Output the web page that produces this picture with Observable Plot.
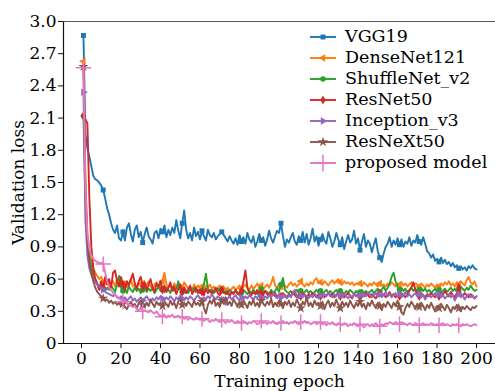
<!DOCTYPE html>
<html><head><meta charset="utf-8">
<script src="https://cdn.jsdelivr.net/npm/d3@7"></script>
<script src="https://cdn.jsdelivr.net/npm/@observablehq/plot@0.6"></script>
<style>
body{margin:0;background:#fff;}
#wrap{position:relative;width:495px;height:391px;overflow:hidden;font-family:"DejaVu Serif",serif;}
#legend{position:absolute;left:309px;top:26px;font-size:17.5px;color:#000;}
#legend .row{height:21px;line-height:21px;white-space:nowrap;display:flex;align-items:center;}
#legend svg{margin-right:8px;overflow:visible;}
</style>
</head><body>
<div id="wrap"><div id="chart"></div><div id="legend"></div></div>
<script>
const seriesNames = ["VGG19","DenseNet121","ShuffleNet_v2","ResNet50","Inception_v3","ResNeXt50","proposed model"];
const seriesColors = ["#1f77b4","#ff7f0e","#2ca02c","#d62728","#9467bd","#8c564b","#e377c2"];
const seriesSymbols = ["square","triangle","circle","diamond","triangle","star","plus"];
const seriesRotate = [0,-90,0,0,90,0,0];
const xTicks = [0,20,40,60,80,100,120,140,160,180,200];
const yTicks = [0,0.3,0.6,0.9,1.2,1.5,1.8,2.1,2.4,2.7,3.0];

const vgg19 = [
2.87,1.95,1.82,1.74,1.65,1.56,1.53,1.52,1.50,1.47,1.43,1.35,1.26,1.20,1.12,1.06,1.03,1.10,0.98,0.96,
1.04,0.96,1.08,1.12,1.02,0.95,1.06,1.10,0.99,1.04,0.94,1.02,1.08,1.00,0.97,0.93,1.03,1.05,0.98,1.07,
1.04,1.10,0.99,1.06,1.01,1.08,1.03,1.15,1.05,0.98,1.12,1.24,1.06,0.98,1.03,0.96,1.08,1.00,1.04,0.97,
1.05,1.00,0.96,1.06,1.01,0.99,1.03,0.97,1.00,1.02,1.04,1.01,0.98,0.95,1.00,0.96,0.93,0.98,0.92,1.01,
0.95,0.99,0.93,1.03,0.97,0.94,1.00,0.90,0.95,1.02,0.96,0.99,0.91,0.97,1.05,0.98,0.94,1.00,1.05,1.03,
1.12,1.00,0.90,0.97,0.94,0.99,1.03,0.95,0.92,1.00,0.96,1.04,0.94,1.02,0.92,0.98,1.07,0.95,1.00,0.91,
0.97,1.02,0.96,0.93,1.04,0.98,0.90,0.95,1.03,0.97,0.92,0.99,0.88,0.95,1.01,0.94,0.97,1.05,0.93,0.98,
0.87,0.95,1.02,0.90,0.96,0.93,0.85,0.92,0.98,0.86,0.80,0.76,0.84,0.90,0.93,0.99,0.90,0.96,0.92,0.98,
0.92,0.97,0.90,0.95,0.93,0.99,0.91,0.96,0.94,1.01,0.95,0.92,0.99,0.93,0.86,0.84,0.80,0.83,0.77,0.79,
0.76,0.80,0.75,0.78,0.74,0.76,0.72,0.75,0.71,0.73,0.70,0.72,0.69,0.71,0.68,0.72,0.70,0.73,0.70,0.69];

const densenet121 = [
2.63,1.55,1.02,0.86,0.76,0.70,0.66,0.63,0.60,0.62,0.57,0.55,0.59,0.54,0.56,0.58,0.53,0.60,0.55,0.57,
0.54,0.58,0.52,0.56,0.60,0.53,0.55,0.51,0.57,0.54,0.56,0.52,0.55,0.58,0.53,0.50,0.55,0.57,0.52,0.54,
0.58,0.66,0.55,0.52,0.54,0.50,0.56,0.53,0.51,0.55,0.52,0.57,0.54,0.51,0.53,0.50,0.55,0.52,0.54,0.51,
0.53,0.50,0.54,0.52,0.55,0.51,0.53,0.50,0.52,0.54,0.51,0.53,0.50,0.52,0.49,0.51,0.53,0.50,0.52,0.54,
0.51,0.53,0.55,0.52,0.50,0.54,0.51,0.53,0.56,0.52,0.54,0.50,0.53,0.55,0.52,0.56,0.62,0.54,0.52,0.55,
0.53,0.56,0.54,0.52,0.55,0.57,0.54,0.56,0.53,0.55,0.58,0.55,0.53,0.56,0.54,0.57,0.55,0.59,0.61,0.56,
0.57,0.55,0.58,0.56,0.54,0.57,0.59,0.56,0.58,0.60,0.57,0.55,0.58,0.56,0.57,0.55,0.57,0.54,0.56,0.55,
0.56,0.54,0.57,0.55,0.53,0.56,0.54,0.57,0.55,0.53,0.56,0.54,0.55,0.53,0.56,0.54,0.57,0.55,0.53,0.56,
0.55,0.57,0.54,0.56,0.53,0.55,0.57,0.54,0.56,0.55,0.53,0.56,0.54,0.52,0.55,0.53,0.56,0.54,0.52,0.55,
0.53,0.56,0.54,0.57,0.55,0.58,0.54,0.56,0.53,0.57,0.55,0.58,0.56,0.54,0.59,0.62,0.57,0.55,0.58,0.53];

const shufflenetV2 = [
2.12,1.30,0.95,0.80,0.71,0.64,0.60,0.56,0.53,0.55,0.51,0.49,0.52,0.50,0.54,0.51,0.48,0.55,0.63,0.52,
0.49,0.51,0.47,0.53,0.50,0.48,0.52,0.49,0.51,0.47,0.50,0.54,0.48,0.51,0.49,0.52,0.47,0.50,0.53,0.49,
0.51,0.48,0.52,0.50,0.47,0.53,0.49,0.51,0.58,0.50,0.48,0.52,0.49,0.47,0.51,0.49,0.52,0.48,0.50,0.47,
0.49,0.55,0.65,0.51,0.48,0.50,0.47,0.49,0.51,0.48,0.50,0.47,0.49,0.46,0.50,0.48,0.47,0.49,0.46,0.48,
0.47,0.50,0.48,0.46,0.49,0.47,0.50,0.48,0.46,0.49,0.51,0.47,0.49,0.48,0.46,0.50,0.47,0.49,0.52,0.48,
0.55,0.61,0.50,0.48,0.47,0.49,0.46,0.48,0.50,0.47,0.49,0.46,0.48,0.50,0.47,0.49,0.46,0.48,0.50,0.47,
0.49,0.47,0.48,0.50,0.47,0.49,0.46,0.48,0.50,0.47,0.49,0.48,0.46,0.49,0.47,0.50,0.48,0.46,0.49,0.47,
0.48,0.50,0.47,0.49,0.46,0.48,0.50,0.47,0.49,0.51,0.48,0.50,0.53,0.49,0.52,0.56,0.62,0.66,0.58,0.53,
0.50,0.52,0.49,0.51,0.48,0.50,0.52,0.49,0.51,0.48,0.50,0.52,0.49,0.51,0.48,0.50,0.47,0.49,0.51,0.48,
0.50,0.47,0.49,0.51,0.48,0.50,0.52,0.49,0.51,0.48,0.50,0.53,0.51,0.49,0.52,0.50,0.54,0.51,0.49,0.50];

const resnet50 = [
2.12,2.09,2.05,1.35,0.90,0.70,0.60,0.55,0.50,0.58,0.52,0.62,0.55,0.60,0.52,0.66,0.68,0.58,0.53,0.62,
0.55,0.50,0.58,0.54,0.60,0.65,0.56,0.51,0.58,0.62,0.53,0.57,0.50,0.55,0.60,0.52,0.48,0.56,0.53,0.58,
0.50,0.54,0.48,0.52,0.57,0.49,0.53,0.46,0.51,0.55,0.48,0.52,0.47,0.50,0.54,0.46,0.49,0.52,0.47,0.50,
0.48,0.45,0.51,0.47,0.50,0.46,0.49,0.52,0.47,0.45,0.50,0.48,0.46,0.49,0.44,0.48,0.46,0.50,0.47,0.45,
0.49,0.58,0.68,0.52,0.47,0.45,0.48,0.46,0.50,0.44,0.47,0.45,0.49,0.46,0.44,0.48,0.45,0.47,0.43,0.46,
0.44,0.47,0.45,0.43,0.46,0.44,0.48,0.45,0.43,0.46,0.44,0.47,0.45,0.42,0.46,0.44,0.47,0.45,0.43,0.46,
0.44,0.46,0.43,0.45,0.47,0.44,0.46,0.43,0.45,0.48,0.44,0.46,0.43,0.45,0.47,0.44,0.42,0.46,0.44,0.45,
0.43,0.46,0.44,0.47,0.45,0.43,0.46,0.44,0.42,0.45,0.47,0.44,0.46,0.43,0.45,0.48,0.44,0.46,0.43,0.45,
0.44,0.47,0.45,0.43,0.46,0.49,0.52,0.57,0.50,0.46,0.44,0.47,0.45,0.43,0.46,0.44,0.47,0.45,0.43,0.46,
0.44,0.47,0.45,0.49,0.46,0.44,0.48,0.45,0.43,0.47,0.52,0.46,0.44,0.47,0.45,0.43,0.46,0.44,0.42,0.44];

const inceptionV3 = [
2.34,1.15,0.82,0.70,0.64,0.60,0.57,0.55,0.53,0.51,0.50,0.48,0.47,0.46,0.45,0.44,0.46,0.43,0.42,0.44,
0.41,0.43,0.40,0.42,0.44,0.40,0.42,0.39,0.41,0.43,0.40,0.42,0.44,0.41,0.39,0.42,0.40,0.43,0.41,0.44,
0.42,0.40,0.43,0.41,0.44,0.42,0.39,0.43,0.41,0.45,0.42,0.40,0.43,0.41,0.44,0.42,0.40,0.43,0.45,0.42,
0.40,0.43,0.41,0.44,0.42,0.46,0.43,0.41,0.44,0.42,0.40,0.43,0.36,0.42,0.44,0.41,0.43,0.45,0.42,0.40,
0.43,0.41,0.44,0.42,0.45,0.43,0.41,0.44,0.42,0.46,0.43,0.41,0.44,0.42,0.45,0.43,0.47,0.44,0.42,0.45,
0.43,0.46,0.44,0.42,0.45,0.43,0.47,0.50,0.44,0.42,0.45,0.43,0.46,0.44,0.42,0.45,0.43,0.47,0.44,0.42,
0.45,0.43,0.46,0.44,0.48,0.45,0.43,0.46,0.44,0.47,0.45,0.43,0.46,0.44,0.42,0.45,0.43,0.46,0.44,0.47,
0.45,0.43,0.46,0.44,0.48,0.46,0.43,0.45,0.47,0.44,0.46,0.43,0.45,0.48,0.44,0.46,0.43,0.45,0.47,0.44,
0.46,0.43,0.45,0.48,0.44,0.46,0.43,0.45,0.47,0.44,0.46,0.43,0.45,0.41,0.44,0.46,0.43,0.45,0.47,0.44,
0.46,0.43,0.45,0.42,0.44,0.46,0.43,0.45,0.40,0.44,0.46,0.43,0.45,0.41,0.44,0.46,0.43,0.45,0.42,0.44];

const resnext50 = [
2.58,1.40,0.95,0.76,0.66,0.58,0.52,0.48,0.46,0.44,0.42,0.40,0.41,0.38,0.40,0.37,0.39,0.36,0.38,0.35,
0.37,0.34,0.32,0.36,0.39,0.35,0.37,0.33,0.38,0.40,0.36,0.34,0.38,0.35,0.41,0.37,0.34,0.39,0.36,0.38,
0.35,0.39,0.37,0.34,0.40,0.36,0.38,0.33,0.39,0.42,0.36,0.38,0.35,0.39,0.37,0.34,0.40,0.36,0.38,0.35,
0.39,0.33,0.28,0.36,0.40,0.37,0.42,0.35,0.38,0.34,0.40,0.37,0.43,0.36,0.39,0.35,0.41,0.38,0.34,0.39,
0.36,0.40,0.37,0.33,0.39,0.36,0.41,0.35,0.38,0.34,0.40,0.37,0.35,0.39,0.36,0.42,0.34,0.38,0.35,0.40,
0.37,0.33,0.39,0.36,0.40,0.34,0.38,0.35,0.41,0.37,0.33,0.39,0.36,0.43,0.35,0.38,0.34,0.40,0.36,0.38,
0.35,0.39,0.32,0.37,0.40,0.34,0.38,0.35,0.41,0.36,0.33,0.39,0.35,0.38,0.34,0.40,0.36,0.33,0.38,0.35,
0.39,0.34,0.37,0.32,0.38,0.35,0.40,0.36,0.33,0.38,0.35,0.31,0.37,0.34,0.39,0.36,0.33,0.38,0.35,0.40,
0.34,0.29,0.27,0.33,0.37,0.34,0.39,0.36,0.32,0.37,0.34,0.38,0.35,0.31,0.36,0.33,0.38,0.34,0.30,0.35,
0.33,0.37,0.34,0.31,0.36,0.33,0.29,0.34,0.32,0.36,0.33,0.30,0.34,0.32,0.35,0.33,0.31,0.34,0.33,0.35];

const proposedModel = [
2.57,1.45,1.02,0.88,0.82,0.79,0.77,0.76,0.75,0.75,0.74,0.66,0.58,0.52,0.50,0.47,0.45,0.44,0.42,0.41,
0.39,0.40,0.37,0.36,0.35,0.34,0.35,0.32,0.31,0.33,0.30,0.31,0.30,0.29,0.31,0.29,0.28,0.30,0.27,0.26,
0.25,0.27,0.24,0.26,0.25,0.27,0.24,0.25,0.26,0.24,0.25,0.23,0.24,0.22,0.24,0.23,0.22,0.24,0.23,0.22,
0.23,0.21,0.23,0.22,0.20,0.22,0.21,0.23,0.21,0.20,0.22,0.21,0.19,0.21,0.20,0.22,0.20,0.19,0.21,0.20,
0.19,0.21,0.20,0.18,0.20,0.19,0.21,0.20,0.18,0.19,0.21,0.19,0.20,0.18,0.20,0.19,0.21,0.19,0.18,0.20,
0.19,0.21,0.19,0.20,0.18,0.20,0.19,0.21,0.19,0.18,0.20,0.19,0.21,0.19,0.20,0.18,0.19,0.20,0.18,0.19,
0.20,0.18,0.19,0.17,0.19,0.18,0.20,0.18,0.17,0.19,0.18,0.17,0.19,0.18,0.16,0.18,0.17,0.19,0.17,0.16,
0.18,0.17,0.15,0.17,0.18,0.16,0.18,0.17,0.19,0.17,0.16,0.18,0.17,0.19,0.18,0.20,0.19,0.18,0.20,0.19,
0.18,0.20,0.19,0.18,0.17,0.19,0.18,0.17,0.19,0.18,0.17,0.18,0.19,0.17,0.18,0.17,0.19,0.18,0.17,0.18,
0.17,0.18,0.19,0.17,0.18,0.17,0.16,0.18,0.17,0.18,0.17,0.16,0.18,0.17,0.18,0.17,0.16,0.17,0.18,0.17];

const seriesValues = [vgg19, densenet121, shufflenetV2, resnet50, inceptionV3, resnext50, proposedModel];

const tables = seriesValues.map((vals, s) => vals.map((v, i) => ({epoch: i + 1, loss: v, series: seriesNames[s]})));

const marks = [];
tables.forEach((rows, s) => {
  const c = seriesColors[s];
  marks.push(Plot.line(rows, {x: "epoch", y: "loss", stroke: c, strokeWidth: 1.9, strokeLinejoin: "round"}));
  const pts = rows.filter(d => d.epoch % 10 === 1);
  const sym = seriesSymbols[s];
  if (sym === "plus") {
    marks.push(Plot.dot(pts, {x: "epoch", y: "loss", symbol: sym, stroke: c, strokeWidth: 1.5, r: 5}));
  } else {
    marks.push(Plot.dot(pts, {x: "epoch", y: "loss", symbol: sym, fill: c, r: sym === "star" ? 3.2 : 2.8, rotate: seriesRotate[s]}));
  }
});

const chart = Plot.plot({
  width: 495, height: 391,
  marginLeft: 63, marginRight: 0, marginTop: 21, marginBottom: 48,
  style: {fontFamily: "DejaVu Serif", fontSize: "17px", color: "#000", background: "#fff"},
  x: {domain: [-9.1, 209.6]},
  y: {domain: [0, 3]},
  marks: [
    ...marks,
    Plot.frame({anchor: "left", stroke: "#111", strokeWidth: 1.2}),
    Plot.frame({anchor: "bottom", stroke: "#111", strokeWidth: 1.2}),
    Plot.frame({anchor: "top", stroke: "#555", strokeWidth: 1.2}),
    Plot.axisY({ticks: yTicks, tickFormat: d => d === 0 ? "0" : d.toFixed(1), tickSize: 5, tickPadding: 2, label: "Validation loss", labelAnchor: "center", labelArrow: "none", labelOffset: 52, stroke: "#111"}),
    Plot.axisX({ticks: xTicks, tickFormat: d => String(d), tickSize: 5, tickPadding: 3, label: "Training epoch", labelAnchor: "center", labelArrow: "none", labelOffset: 43, stroke: "#111"})
  ]
});
document.getElementById("chart").appendChild(chart);

// legend
const legend = d3.select("#legend");
const symMap = {square: d3.symbolSquare, triangle: d3.symbolTriangle, circle: d3.symbolCircle, diamond: d3.symbolDiamond, star: d3.symbolStar, plus: d3.symbolPlus};
seriesNames.forEach((name, s) => {
  const row = legend.append("div").attr("class", "row");
  const svg = row.append("svg").attr("width", 28).attr("height", 14);
  const c = seriesColors[s];
  svg.append("line").attr("x1", 1).attr("x2", 27).attr("y1", 7).attr("y2", 7).attr("stroke", c).attr("stroke-width", 1.9);
  const sym = seriesSymbols[s];
  const r = sym === "plus" ? 5.5 : (sym === "star" ? 3.2 : 2.8);
  const p = svg.append("path").attr("d", d3.symbol(symMap[sym], r * r * Math.PI)()).attr("transform", `translate(14,7) rotate(${seriesRotate[s]})`);
  if (sym === "plus") p.attr("fill", "none").attr("stroke", c).attr("stroke-width", 1.5);
  else p.attr("fill", c);
  row.append("span").text(name);
});
</script>
</body></html>
